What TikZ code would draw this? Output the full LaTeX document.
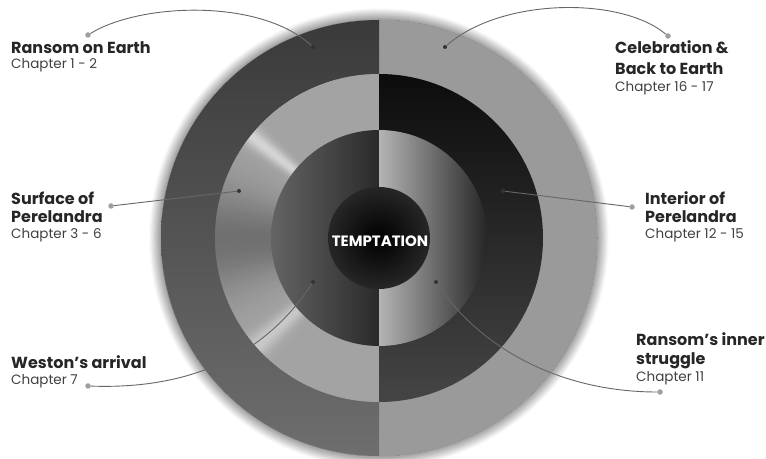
\documentclass[tikz,border=0pt]{standalone}
\usepackage{fontspec}
\setmainfont{Poppins}
\usepackage{xcolor}
\usepackage{tikz}
\usetikzlibrary{shadows.blur,calc}

\definecolor{outerLtop}{HTML}{3A3A3A}
\definecolor{outerLbot}{HTML}{6E6E6E}
\definecolor{outerR}{HTML}{9A9A9A}
\definecolor{midRtop}{HTML}{0C0C0C}
\definecolor{midRbot}{HTML}{454545}
\definecolor{innerLleft}{HTML}{646464}
\definecolor{innerLright}{HTML}{2A2A2A}
\definecolor{innerRleft}{HTML}{B4B4B4}
\definecolor{innerRright}{HTML}{262626}

\begin{document}
\begin{tikzpicture}[x=1pt, y=1pt,
    title/.style={anchor=base west, inner sep=0pt, text=black!85,
                  font=\fontsize{16}{18}\selectfont\bfseries},
    chapter/.style={anchor=base west, inner sep=0pt, text=black!75,
                    font=\fontsize{13.5}{15}\selectfont},
    enddot/.style={circle, fill=gray!75, inner sep=0pt, minimum size=5.5pt},
    pindot/.style={circle, fill=black!80, inner sep=0pt, minimum size=4pt},
    leader/.style={draw=black!60, line width=0.9pt},
    core/.style={text=white, font=\fontsize{15}{17}\selectfont\bfseries}
]
\useasboundingbox (0,0) rectangle (766,458);
\coordinate (C) at (379,220);

%% Outer ring
\path[fill=outerR, blur shadow={shadow xshift=0pt, shadow yshift=0pt,
      shadow blur radius=12pt, shadow blur steps=14, shadow opacity=80}]
  (C) circle[radius=218];
\shade[top color=outerLtop, bottom color=outerLbot]
  (C) ++(90:218) arc[start angle=90, end angle=270, radius=218] -- cycle;

%% Middle ring, left half (light, with reflections)
\foreach \a in {90,...,269} {
  \pgfmathsetmacro\da{min(abs(\a-141),30)}
  \pgfmathsetmacro\db{min(abs(\a-221),30)}
  \pgfmathsetmacro\dc{min(abs(\a-180),60)}
  \pgfmathsetmacro\lv{64 + 20*exp(-\da*\da/10) + 15*exp(-\db*\db/16)
     - 20*exp(-\dc*\dc/400)}
  \fill[white!\lv!black] (C) -- ++(\a:164)
    arc[start angle=\a, end angle=\a+1.6, radius=164] -- cycle;
}
%% Middle ring, right half (dark)
\shade[top color=midRtop, bottom color=midRbot]
  (C) ++(-90:164) arc[start angle=-90, end angle=90, radius=164] -- cycle;

%% Inner ring
\shade[left color=innerLleft, right color=innerLright]
  (C) ++(90:108) arc[start angle=90, end angle=270, radius=108] -- cycle;
\shade[left color=innerRleft, right color=innerRright]
  (C) ++(-90:108) arc[start angle=-90, end angle=90, radius=108] -- cycle;

%% Core
\shade[inner color=black, outer color=black!85] (C) circle[radius=51];
\node[core] (temptation) at (380,217) {TEMPTATION};

%% Labels
\node[title] (earthT) at (11,404) {Ransom on Earth};
\node[chapter] (earthC) at (11,389) {Chapter 1 - 2};

\node[title] (celebT) at (615,404) {Celebration \&};
\node[title] (celebT2) at (615,383) {Back to Earth};
\node[chapter] (celebC) at (615,366) {Chapter 16 - 17};

\node[title] (surfT) at (11,253) {Surface of};
\node[title] (surfT2) at (11,235) {Perelandra};
\node[chapter] (surfC) at (11,219) {Chapter 3 - 6};

\node[title] (intT) at (645,253) {Interior of};
\node[title] (intT2) at (645,235) {Perelandra};
\node[chapter] (intC) at (645,219) {Chapter 12 - 15};

\node[title] (westT) at (11,89) {Weston's arrival};
\node[chapter] (westC) at (11,73) {Chapter 7};

\node[title] (strugT) at (636,112) {Ransom's inner};
\node[title] (strugT2) at (636,93) {struggle};
\node[chapter] (strugC) at (636,76) {Chapter 11};

%% Leaders
\node[enddot] (earthA) at (88,423) {};
\node[pindot] (earthB) at (313,411) {};
\draw[leader] (earthA) .. controls (140,455) and (260,460) .. (earthB);

\node[pindot] (celebB) at (445,411) {};
\node[enddot] (celebA) at (668,422) {};
\draw[leader] (celebB) .. controls (500,460) and (620,462) .. (celebA);

\node[enddot] (surfA) at (111,252) {};
\node[pindot] (surfB) at (239,267) {};
\draw[leader] (surfA) -- (surfB);

\node[pindot] (intB) at (503,267) {};
\node[enddot] (intA) at (632,251) {};
\draw[leader] (intB) -- (intA);

\node[enddot] (westA) at (88,72) {};
\node[pindot] (westB) at (313,176) {};
\draw[leader] (westA) .. controls (200,68) and (270,110) .. (westB);

\node[pindot] (strugB) at (436,176) {};
\node[enddot] (strugA) at (660,66) {};
\draw[leader] (strugB) .. controls (480,110) and (560,66) .. (strugA);

\end{tikzpicture}
\end{document}
